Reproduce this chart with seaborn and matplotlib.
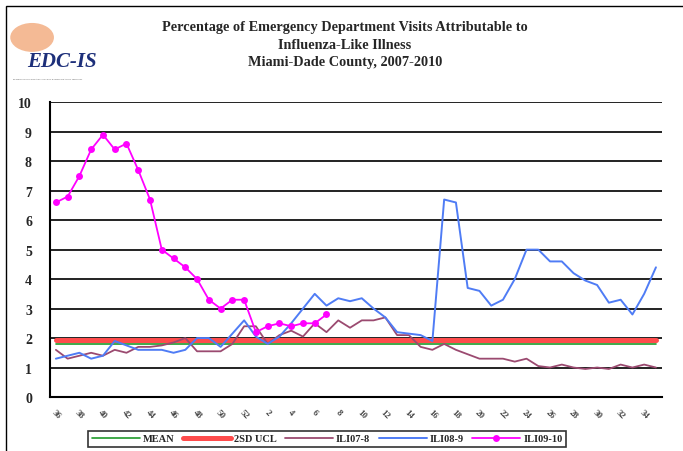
import numpy as np
import matplotlib
matplotlib.use("Agg")
import matplotlib.pyplot as plt
import seaborn as sns
from matplotlib.patches import Rectangle, Circle

# Data (weeks 36-52 of year one, then weeks 1-35)
weeks = list(range(36, 53)) + list(range(1, 36))
mean_val = 1.8
ucl_val = 1.95
ili07_8 = [1.6, 1.3, 1.4, 1.5, 1.4, 1.6, 1.5, 1.7, 1.7, 1.75, 1.85, 2.0, 1.55,
           1.55, 1.55, 1.8, 2.4, 2.4, 1.8, 2.1, 2.25, 2.05, 2.5, 2.2, 2.6, 2.35,
           2.6, 2.6, 2.7, 2.1, 2.1, 1.7, 1.6, 1.8, 1.6, 1.45, 1.3, 1.3, 1.3, 1.2,
           1.3, 1.05, 1.0, 1.1, 1.0, 0.95, 1.0, 0.95, 1.1, 1.0, 1.1, 1.0]
ili08_9 = [1.3, 1.4, 1.5, 1.3, 1.4, 1.9, 1.75, 1.6, 1.6, 1.6, 1.5, 1.6, 2.0,
           2.0, 1.7, 2.15, 2.6, 2.05, 1.8, 2.05, 2.5, 3.0, 3.5, 3.1, 3.35, 3.25,
           3.35, 3.0, 2.7, 2.2, 2.15, 2.1, 1.9, 6.7, 6.6, 3.7, 3.6, 3.1, 3.3,
           4.0, 5.0, 5.0, 4.6, 4.6, 4.2, 3.95, 3.8, 3.2, 3.3, 2.8, 3.5, 4.4]
ili09_10 = [6.6, 6.8, 7.5, 8.4, 8.9, 8.4, 8.6, 7.7, 6.7, 5.0, 4.7, 4.4, 4.0,
            3.3, 3.0, 3.3, 3.3, 2.2, 2.4, 2.5, 2.4, 2.5, 2.5, 2.8]

idx = np.arange(len(weeks))

sns.set_style("white")
plt.rcParams["font.family"] = ["Liberation Serif", "DejaVu Serif"]

fig = plt.figure(figsize=(6.83, 4.52), dpi=100)
ax = fig.add_axes([0.0732, 0.1195, 0.8958, 0.652])

sns.lineplot(x=idx, y=[mean_val] * len(idx), color="#1f9a2a", linewidth=1.2, label="MEAN", ax=ax)
sns.lineplot(x=idx, y=[ucl_val] * len(idx), color="#ff4c4c", linewidth=3.6, label="2SD UCL", ax=ax)
sns.lineplot(x=idx, y=ili07_8, color="#9b4a70", linewidth=1.3, label="ILI07-8", ax=ax)
sns.lineplot(x=idx, y=ili08_9, color="#4f7cf5", linewidth=1.4, label="ILI08-9", ax=ax)
sns.lineplot(x=idx[:len(ili09_10)], y=ili09_10, color="#ff00ff", linewidth=1.3,
             marker="o", markersize=5, markeredgewidth=0, label="ILI09-10", ax=ax)

ax.set_xlim(-0.5, len(idx) - 0.5)
ax.set_ylim(0, 10)
ax.set_yticks(range(0, 11))
ax.set_yticklabels([str(v) for v in range(0, 11)], fontsize=10, fontweight="bold")
ax.yaxis.grid(True, color="#222222", linewidth=1.4)
ax.set_axisbelow(True)

# ticks between categories, labels on every other category
ax.set_xticks(np.arange(-0.5, len(idx), 1.0))
ax.set_xticklabels([])
ax.set_xticks(idx[::2], minor=True)
ax.set_xticklabels([str(w) for w in weeks[::2]], minor=True, rotation=-45,
                   fontsize=6.5, fontweight="bold", color="#444444",
                   ha="center", va="top")
ax.tick_params(axis="x", which="major", direction="out", length=4, width=1, color="black")
ax.tick_params(axis="x", which="minor", length=0, pad=8)
ax.tick_params(axis="y", direction="out", length=7, width=1.2, color="black", pad=6)
ax.set_xlabel("")
ax.set_ylabel("")

for s in ["top", "right"]:
    ax.spines[s].set_visible(False)
for s in ["left", "bottom"]:
    ax.spines[s].set_color("black")
    ax.spines[s].set_linewidth(1.5)

leg = ax.legend(loc="center", bbox_to_anchor=(0.479, 0.027), bbox_transform=fig.transFigure,
                ncol=5, frameon=True, fancybox=False, edgecolor="black",
                prop={"size": 7.5, "weight": "bold"}, handlelength=4.6,
                columnspacing=0.8, handletextpad=0.3, borderpad=0.35)
leg.get_frame().set_linewidth(1.2)

fig.text(0.505, 0.90, "Percentage of Emergency Department Visits Attributable to\n"
         "Influenza-Like Illness\nMiami-Dade County, 2007-2010",
         ha="center", va="center", fontsize=10.3, fontweight="bold", linespacing=1.45)

# logo
fig.patches.append(Circle((0.047, 0.915), 0.032, transform=fig.transFigure,
                          facecolor="#f3b38a", edgecolor="none", alpha=0.9))
fig.text(0.09, 0.862, "EDC-IS", fontsize=15, fontweight="bold", style="italic",
         color="#1d2f7a", ha="center", va="center")
fig.text(0.07, 0.825, "EPIDEMIOLOGY DISEASE CONTROL & IMMUNIZATION SERVICES",
         fontsize=1.6, color="#555555", ha="center", va="center")

# outer frame
fig.patches.append(Rectangle((0.009, -0.05), 1.1, 1.035, transform=fig.transFigure,
                             fill=False, edgecolor="black", linewidth=1.0))

fig.savefig("out.png", dpi=100)
